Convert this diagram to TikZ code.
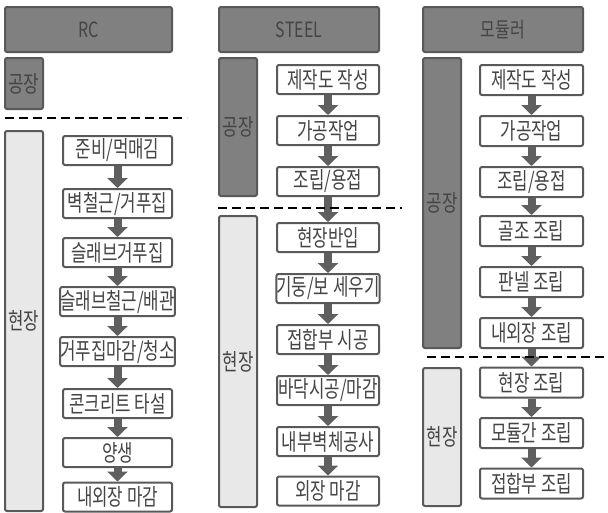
\documentclass[tikz,border=0pt]{standalone}
\usepackage{fontspec}
\setmainfont{Noto Sans CJK KR}[FakeStretch=0.73]
\newfontfamily\hdfont{Noto Sans CJK KR}[FakeStretch=0.76]
\usetikzlibrary{arrows.meta}
\definecolor{bord}{HTML}{595959}
\definecolor{dark}{HTML}{808080}
\definecolor{light}{HTML}{E8E8E8}
\definecolor{txt}{HTML}{454545}
\definecolor{arr}{HTML}{5F5F5F}
\tikzset{
  base/.style={draw=bord, line width=2pt, rounded corners=2pt, inner sep=0pt, text=txt, font=\fontsize{23}{23}\selectfont},
  header/.style={base, fill=dark, minimum width=160pt, minimum height=45pt, font=\hdfont\fontsize{21}{21}\selectfont, text=txt},
  zone/.style={base, minimum width=38pt},
  factory/.style={zone, fill=dark, text=txt},
  site/.style={zone, fill=light},
  stepbox/.style={base, fill=white, minimum height=29pt},
  rcbox/.style={stepbox, minimum width=109pt},
  stbox/.style={stepbox, minimum width=102pt},
  mobox/.style={stepbox, minimum width=103pt},
  blockarrow/.style={draw=arr, line width=8pt, -{Triangle[width=20pt,length=10pt]}},
  sep/.style={draw=black, line width=1.8pt, dash pattern=on 9pt off 5pt}
}
\begin{document}
\begin{tikzpicture}[x=1pt,y=-1pt]
\useasboundingbox[fill=white] (0,0) rectangle (608,512);
% headers
\node[header, minimum width=167pt] (hrc) at (88.5,29.5) {RC};
\node[header] (hst) at (299,29.5) {STEEL};
\node[header] (hmo) at (503,29.5) {모듈러};
% RC
\node[factory, minimum height=51pt] (rcf) at (24,83.5) {공장};
\node[site, minimum height=380pt] (rcs) at (24,321) {현장};
\draw[sep] (5,118) -- (187,118);
\node[rcbox] (r1) at (117.5,150.5) {준비/먹매김};
\node[rcbox] (r2) at (117.5,203.5) {벽철근/거푸집};
\node[rcbox] (r3) at (117.5,252.5) {슬래브거푸집};
\node[rcbox] (r4) at (117.5,301.5) {슬래브철근/배관};
\node[rcbox] (r5) at (117.5,351.5) {거푸집마감/청소};
\node[rcbox] (r6) at (117.5,403.5) {콘크리트 타설};
\node[rcbox] (r7) at (117.5,452.5) {양생};
\node[rcbox] (r8) at (117.5,497) {내외장 마감};
\foreach \a/\b in {r1/r2,r2/r3,r3/r4,r4/r5,r5/r6,r6/r7,r7/r8}
  \draw[blockarrow] (\a.south) -- (\b.north);
% STEEL
\node[factory, minimum height=138pt] (stf) at (238,127) {공장};
\node[site, minimum height=291pt] (sts) at (238,361.5) {현장};
\node[stbox] (s1) at (328,79.5) {제작도 작성};
\node[stbox] (s2) at (328,130.5) {가공작업};
\node[stbox] (s3) at (328,181.5) {조립/용접};
\node[stbox] (s4) at (328,237.5) {현장반입};
\node[stbox] (s5) at (328,288.5) {기둥/보 세우기};
\node[stbox] (s6) at (328,339.5) {접합부 시공};
\node[stbox] (s7) at (328,390.5) {바닥시공/마감};
\node[stbox] (s8) at (328,441.5) {내부벽체공사};
\node[stbox] (s9) at (328,491) {외장 마감};
\foreach \a/\b in {s1/s2,s2/s3,s3/s4,s4/s5,s5/s6,s6/s7,s7/s8,s8/s9}
  \draw[blockarrow] (\a.south) -- (\b.north);
\draw[sep] (218,208) -- (402,208);
% Modular
\node[factory, minimum height=290pt] (mof) at (442,203) {공장};
\node[site, minimum height=138pt] (mos) at (442,437) {현장};
\node[mobox, minimum height=30pt] (m1) at (531.5,80) {제작도 작성};
\node[mobox, minimum height=30pt] (m2) at (531.5,131) {가공작업};
\node[mobox, minimum height=30pt] (m3) at (531.5,182) {조립/용접};
\node[mobox, minimum height=30pt] (m4) at (531.5,231) {골조 조립};
\node[mobox, minimum height=30pt] (m5) at (531.5,282) {판넬 조립};
\node[mobox, minimum height=30pt] (m6) at (531.5,333) {내외장 조립};
\node[mobox, minimum height=30pt] (m7) at (531.5,382.5) {현장 조립};
\node[mobox, minimum height=30pt] (m8) at (531.5,433) {모듈간 조립};
\node[mobox, minimum height=30pt] (m9) at (531.5,483.5) {접합부 조립};
\foreach \a/\b in {m1/m2,m2/m3,m3/m4,m4/m5,m5/m6,m6/m7,m7/m8,m8/m9}
  \draw[blockarrow] (\a.south) -- (\b.north);
\draw[sep] (427,357) -- (608,357);
\end{tikzpicture}
\end{document}
